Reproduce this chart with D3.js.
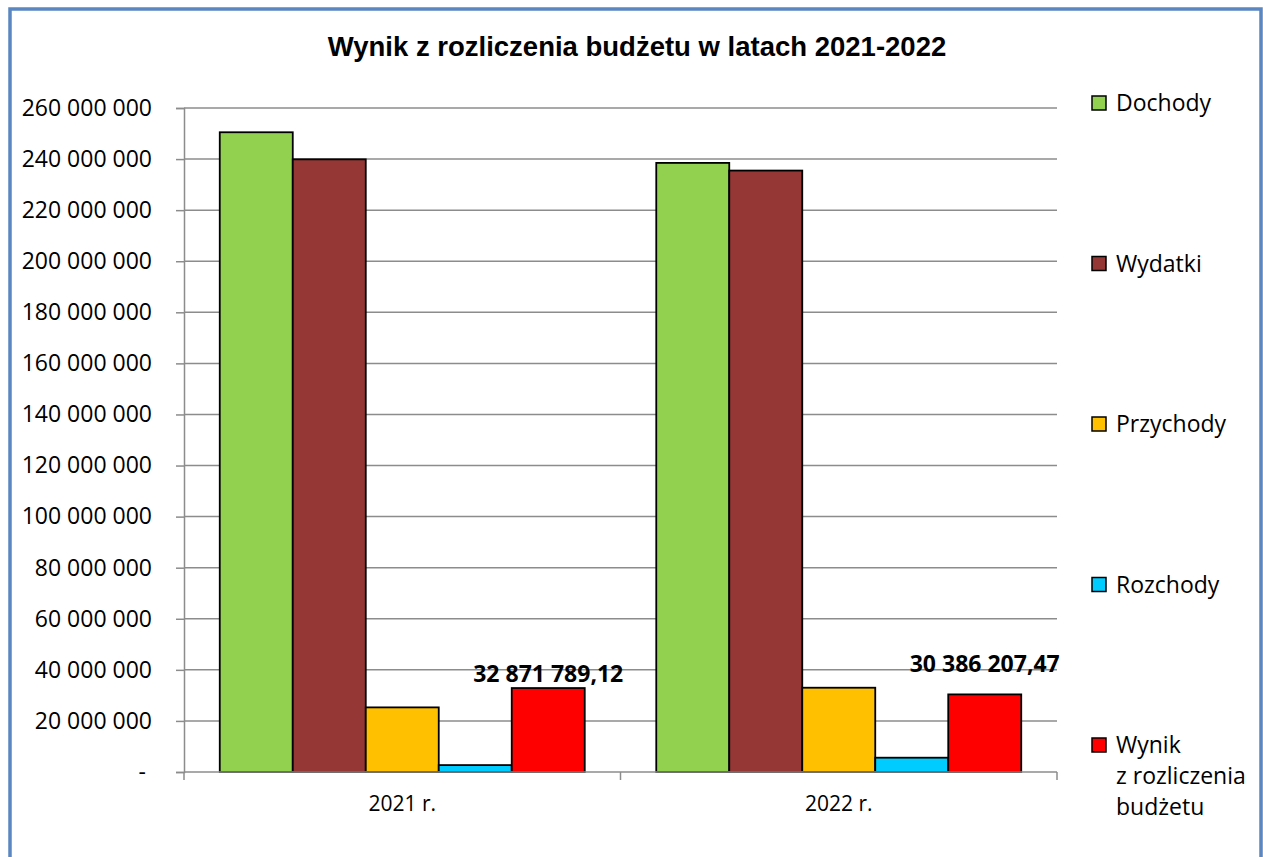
<!DOCTYPE html>
<html>
<head>
<meta charset="utf-8">
<script src="https://cdn.jsdelivr.net/npm/d3@7"></script>
<style>
  body { margin: 0; background: #fff; }
  text { font-family: "Open Sans", "Noto Sans", sans-serif; }
</style>
</head>
<body>
<script>
// chart data
var years = ["2021 r.", "2022 r."];
var seriesNames = ["Dochody", "Wydatki", "Przychody", "Rozchody", "Wynik z rozliczenia budżetu"];
var seriesColors = ["#92D050", "#953735", "#FFC000", "#00CCFF", "#FF0000"];
var values2021 = [250500000, 239900000, 25300000, 2700000, 32871789.12];
var values2022 = [238500000, 235500000, 33000000, 5600000, 30386207.47];
var resultLabels = ["32 871 789,12", "30 386 207,47"];
var yTicks = d3.range(0, 260000001, 20000000);

var W = 1263, H = 857;
var margin = {left: 184, right: 206, top: 108, bottom: 85};

var svg = d3.select("body").append("svg")
  .attr("width", W)
  .attr("height", H);

// outer frame
svg.append("rect")
  .attr("x", 10).attr("y", 9)
  .attr("width", 1251).attr("height", 870)
  .attr("fill", "none")
  .attr("stroke", "#5A86C2")
  .attr("stroke-width", 3.5);

svg.append("text")
  .attr("x", 637).attr("y", 56)
  .attr("text-anchor", "middle")
  .style("font-family", "'Liberation Sans', Arial, sans-serif")
  .style("font-weight", "bold")
  .style("font-size", "27.5px")
  .text("Wynik z rozliczenia budżetu w latach 2021-2022");

var x0 = d3.scaleBand()
  .domain(years)
  .range([margin.left, W - margin.right]);

var x1 = d3.scaleBand()
  .domain(seriesNames)
  .range([0, x0.bandwidth()])
  .paddingInner(0)
  .paddingOuter(0.49);

var y = d3.scaleLinear()
  .domain([0, 260000000])
  .range([H - margin.bottom, margin.top]);

var fmt = function(v) {
  if (v === 0) return "-";
  return d3.format(",")(v).replace(/,/g, " ");
};

// grid
svg.append("g")
  .selectAll("line")
  .data(yTicks.filter(function(d) { return d > 0; }))
  .join("line")
  .attr("x1", margin.left).attr("x2", W - margin.right)
  .attr("y1", function(d) { return y(d); })
  .attr("y2", function(d) { return y(d); })
  .attr("stroke", "#8c8c8c")
  .attr("stroke-width", 1.5);

// y axis
var yAxis = svg.append("g")
  .attr("transform", "translate(" + margin.left + ",0)")
  .call(d3.axisLeft(y).tickValues(yTicks).tickFormat(fmt).tickSize(8).tickPadding(24));
yAxis.select(".domain").attr("stroke", "#8c8c8c").attr("stroke-width", 1.5);
yAxis.selectAll(".tick line").attr("stroke", "#8c8c8c").attr("stroke-width", 1.5);
yAxis.selectAll(".tick text")
  .style("font-size", "23px")
  .attr("fill", "#000");
yAxis.selectAll(".tick text").filter(function(d) { return d === 0; }).attr("dx", -6);

// x axis
var xAxis = svg.append("g")
  .attr("transform", "translate(0," + y(0) + ")")
  .call(d3.axisBottom(x0).tickSize(0).tickPadding(24));
xAxis.select(".domain").remove();
xAxis.selectAll(".tick text").style("font-size", "21px").attr("fill", "#000");

svg.append("g")
  .selectAll("line")
  .data(years.concat(["end"]))
  .join("line")
  .attr("x1", function(d, i) { return i < years.length ? x0(d) : x0(years[years.length - 1]) + x0.bandwidth(); })
  .attr("x2", function(d, i) { return i < years.length ? x0(d) : x0(years[years.length - 1]) + x0.bandwidth(); })
  .attr("y1", y(0)).attr("y2", y(0) + 8)
  .attr("stroke", "#8c8c8c")
  .attr("stroke-width", 1.5);

// bars
var table = years.map(function(yr, i) {
  var vals = i === 0 ? values2021 : values2022;
  return {year: yr, bars: seriesNames.map(function(s, j) { return {name: s, value: vals[j], color: seriesColors[j]}; })};
});

var groups = svg.append("g")
  .selectAll("g")
  .data(table)
  .join("g")
  .attr("transform", function(d) { return "translate(" + x0(d.year) + ",0)"; });

groups.selectAll("rect")
  .data(function(d) { return d.bars; })
  .join("rect")
  .attr("x", function(d) { return x1(d.name); })
  .attr("width", x1.bandwidth())
  .attr("y", function(d) { return y(d.value); })
  .attr("height", function(d) { return y(0) - y(d.value); })
  .attr("fill", function(d) { return d.color; })
  .attr("stroke", "#000")
  .attr("stroke-width", 1.8);

// x axis baseline drawn over bars
svg.append("line")
  .attr("x1", margin.left).attr("x2", W - margin.right)
  .attr("y1", y(0)).attr("y2", y(0))
  .attr("stroke", "#8c8c8c")
  .attr("stroke-width", 1.5);

// result labels
var labelLift = [6, 22];
groups.append("text")
  .attr("x", x1(seriesNames[4]) + x1.bandwidth() / 2)
  .attr("y", function(d, i) { return y(d.bars[4].value) - labelLift[i]; })
  .attr("text-anchor", "middle")
  .style("font-size", "23px")
  .style("font-weight", "bold")
  .text(function(d, i) { return resultLabels[i]; });

// legend
var legendLines = [["Dochody"], ["Wydatki"], ["Przychody"], ["Rozchody"], ["Wynik", "z rozliczenia", "budżetu"]];
var legend = svg.append("g")
  .selectAll("g")
  .data(seriesNames)
  .join("g")
  .attr("transform", function(d, i) { return "translate(1092," + (96 + i * 160.5) + ")"; });

legend.append("rect")
  .attr("width", 14).attr("height", 14)
  .attr("fill", function(d, i) { return seriesColors[i]; })
  .attr("stroke", "#000")
  .attr("stroke-width", 1.5);

legend.append("text")
  .attr("x", 24)
  .attr("y", 15)
  .style("font-size", "23px")
  .selectAll("tspan")
  .data(function(d, i) { return legendLines[i]; })
  .join("tspan")
  .attr("x", 24)
  .attr("dy", function(d, i) { return i === 0 ? 0 : 31; })
  .text(function(d) { return d; });
</script>
</body>
</html>
